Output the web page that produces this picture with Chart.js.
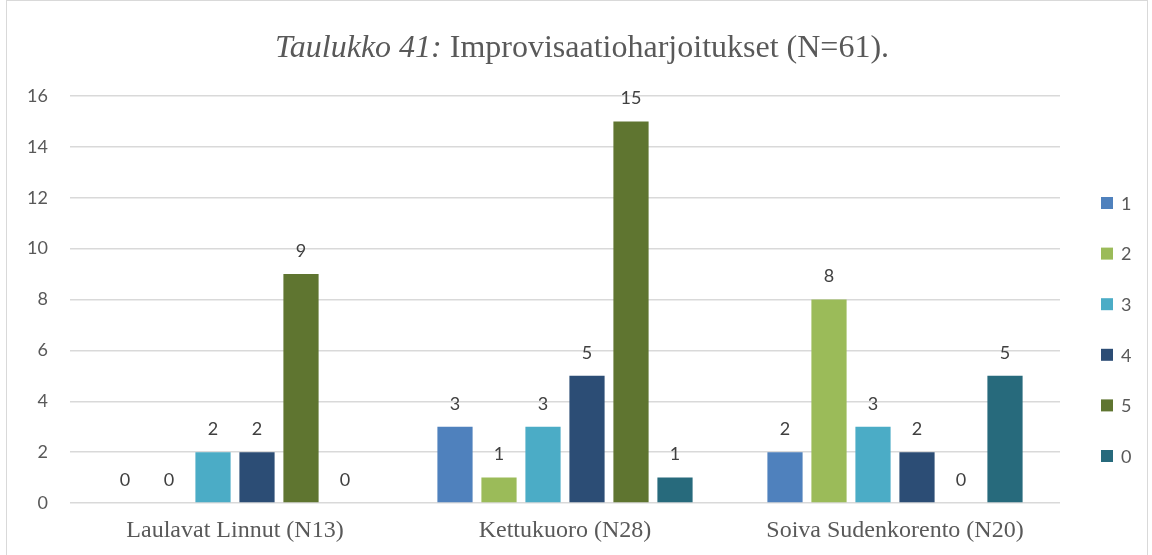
<!DOCTYPE html>
<html>
<head>
<meta charset="utf-8">
<script src="https://cdn.jsdelivr.net/npm/chart.js@4.4.1/dist/chart.umd.min.js"></script>
<style>
  html, body { margin: 0; padding: 0; background: #fff; }
  #wrap { width: 1152px; height: 555px; position: relative; }
</style>
</head>
<body>
<div id="wrap"><canvas id="myChart"></canvas></div>
<script>
// Chart values
const categories = ['Laulavat Linnut (N13)', 'Kettukuoro (N28)', 'Soiva Sudenkorento (N20)'];
const seriesNames = ['1', '2', '3', '4', '5', '0'];
const s1 = [0, 3, 2];
const s2 = [0, 1, 8];
const s3 = [2, 3, 3];
const s4 = [2, 5, 2];
const s5 = [9, 15, 0];
const s0 = [0, 1, 5];
const colors = ['#4F81BD', '#9BBB59', '#4BACC6', '#2C4D75', '#5F7530', '#276A7C'];
const yTicks = [0, 2, 4, 6, 8, 10, 12, 14, 16];

const allSeries = [s1, s2, s3, s4, s5, s0];

// frame, title, value labels, legend
const extras = {
    id: 'extras',
    afterDraw(chart) {
        const c = chart.ctx;
        c.save();
        // outer frame
        c.strokeStyle = '#d9d9d9';
        c.lineWidth = 1;
        c.strokeRect(6.5, 0.5, 1141, 600);

        // title, italic part + normal part
        const t1 = 'Taulukko 41:';
        const t2 = ' Improvisaatioharjoitukset (N=61).';
        c.fillStyle = '#595959';
        c.textBaseline = 'alphabetic';
        const f1 = 'italic 32px "Liberation Serif"';
        const f2 = '32px "Liberation Serif"';
        c.font = f1; const w1 = c.measureText(t1).width;
        c.font = f2; const w2 = c.measureText(t2).width;
        let x = 582 - (w1 + w2) / 2;
        c.font = f1; c.textAlign = 'left'; c.fillText(t1, x, 57);
        c.font = f2; c.fillText(t2, x + w1, 57);

        // values above bars
        c.font = '18px Lato';
        c.fillStyle = '#404040';
        c.textAlign = 'center';
        c.textBaseline = 'bottom';
        chart.data.datasets.forEach((ds, i) => {
            const meta = chart.getDatasetMeta(i);
            meta.data.forEach((bar, j) => {
                c.fillText(String(ds.data[j]), bar.x, bar.y - 14);
            });
        });

        // legend
        c.textAlign = 'left';
        c.textBaseline = 'middle';
        c.font = '18px Lato';
        chart.data.datasets.forEach((ds, i) => {
            const y = 203 + i * 50.6;
            c.fillStyle = ds.backgroundColor;
            c.fillRect(1101, y - 6, 12, 12);
            c.fillStyle = '#595959';
            c.fillText(ds.label, 1121, y + 1);
        });
        c.restore();
    }
};

new Chart(document.getElementById('myChart'), {
    type: 'bar',
    data: {
        labels: categories,
        datasets: allSeries.map((d, i) => ({
            label: seriesNames[i],
            data: d,
            backgroundColor: colors[i],
            categoryPercentage: 0.8,
            barPercentage: 0.8
        }))
    },
    options: {
        responsive: true,
        maintainAspectRatio: false,
        animation: false,
        layout: { padding: { left: 0, right: 92, top: 96, bottom: 0 } },
        plugins: {
            legend: { display: false },
            title: { display: false },
            tooltip: { enabled: false }
        },
        scales: {
            x: {
                grid: { display: false },
                border: { display: false },
                afterFit(scale) { scale.height = 52; },
                ticks: {
                    color: '#595959',
                    font: { family: '"Liberation Serif"', size: 24, lineHeight: 1 },
                    padding: 8
                }
            },
            y: {
                min: 0,
                max: 16,
                afterBuildTicks(scale) { scale.ticks = yTicks.map(v => ({ value: v })); },
                afterFit(scale) { scale.width = 70; },
                grid: { color: '#d9d9d9', lineWidth: 1.5, drawTicks: false },
                border: { display: false },
                ticks: {
                    color: '#595959',
                    font: { family: 'Lato', size: 18 },
                    padding: 22
                }
            }
        }
    },
    plugins: [extras]
});
</script>
</body>
</html>
